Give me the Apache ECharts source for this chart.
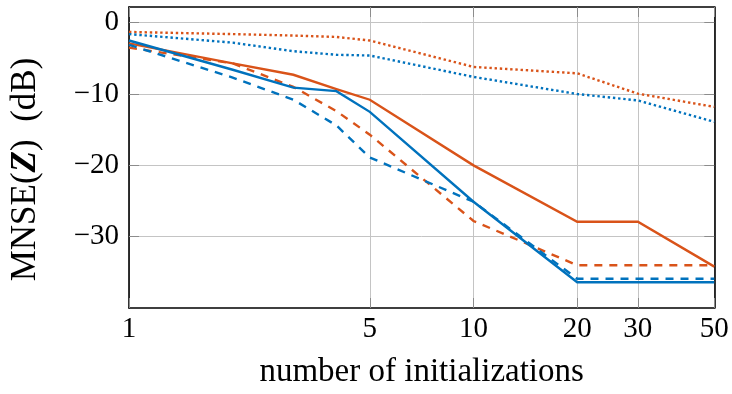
<!DOCTYPE html>
<html><head><meta charset="utf-8">
<script src="https://cdn.jsdelivr.net/npm/echarts@6/dist/echarts.min.js"></script>
<style>html,body{margin:0;padding:0;background:#fff}#c{width:732px;height:394px}</style>
</head><body><div id="c"></div>
<script>
const inits = [1, 2, 3, 4, 5, 10, 20, 30, 50];
const xTicks = [1, 5, 10, 20, 30, 50];
const yTicks = [0, -10, -20, -30];
const blueSolid    = [-2.5, -6.6, -9.1, -9.6, -12.5, -25.1, -36.4, -36.4, -36.4];
const blueDashed   = [-3.1, -7.7, -10.8, -14.4, -18.9, -25.1, -35.9, -35.9, -35.9];
const blueDotted   = [-1.6, -2.8, -4.0, -4.5, -4.6, -7.6, -10.0, -10.9, -13.9];
const orangeSolid  = [-2.9, -5.7, -7.3, -9.3, -10.8, -20.0, -27.9, -27.9, -34.2];
const orangeDashed = [-3.5, -5.7, -9.0, -12.4, -15.7, -27.8, -34.0, -34.0, -34.0];
const orangeDotted = [-1.3, -1.6, -1.8, -2.0, -2.5, -6.2, -7.1, -9.95, -11.8];

const BLUE = '#0072BD', ORANGE = '#D95319';
const FONT = 'Liberation Serif';
const lx = v => Math.log10(v);
const pts = arr => inits.map((n, i) => [lx(n), arr[i]]);
const minus = v => (v < 0 ? '\u2212' + Math.abs(v) : String(v));

const tick = (vals) => ({show: true, inside: true, length: 10, customValues: vals,
  lineStyle: {color: '#8c8c8c', width: 1}});
const axLine = {show: true, onZero: false, lineStyle: {color: '#000', width: 1.6}};

const chart = echarts.init(document.getElementById('c'), null, {renderer: 'canvas'});
const mk = (name, data, color, type) => ({
  name, type: 'line', data: pts(data), showSymbol: false, symbol: 'none',
  lineStyle: {color, width: 2.4, type, cap: 'butt', join: 'miter'},
  animation: false, z: 3
});
chart.setOption({
  animation: false,
  grid: {left: 128, right: 17.7, top: 7, bottom: 85, containLabel: false},
  xAxis: [{
    type: 'value', min: 0, max: lx(50), position: 'bottom',
    axisLine: axLine, axisTick: tick(xTicks.map(lx)),
    axisLabel: {customValues: xTicks.map(lx), formatter: v => String(Math.round(Math.pow(10, v))),
      fontFamily: FONT, fontSize: 29, color: '#000', margin: 7},
    splitLine: {show: true, lineStyle: {color: '#c4c4c4', width: 1}},
    name: 'number of initializations', nameLocation: 'middle', nameGap: 48,
    nameTextStyle: {fontFamily: FONT, fontSize: 33, color: '#000'}
  }, {
    type: 'value', min: 0, max: lx(50), position: 'top',
    axisLine: axLine, axisTick: tick(xTicks.map(lx)),
    axisLabel: {show: false}, splitLine: {show: false}
  }],
  yAxis: [{
    type: 'value', min: -40, max: 2.2, position: 'left',
    axisLine: axLine, axisTick: tick(yTicks),
    axisLabel: {customValues: yTicks, formatter: v => minus(v),
      fontFamily: FONT, fontSize: 29, color: '#000', margin: 10},
    splitLine: {show: true, lineStyle: {color: '#c4c4c4', width: 1}},
    name: '{a|MNSE(}{b|Z}{a|)  (dB)}', nameLocation: 'middle', nameGap: 86,
    nameTextStyle: {color: '#000', padding: [0, 24, 0, 0],
      rich: {a: {fontFamily: FONT, fontSize: 35, color: '#000'},
             b: {fontFamily: FONT, fontSize: 35, fontWeight: 'bold', fontStyle: 'italic', color: '#000'}}}
  }, {
    type: 'value', min: -40, max: 2.2, position: 'right',
    axisLine: axLine, axisTick: tick(yTicks),
    axisLabel: {show: false}, splitLine: {show: false}
  }],
  series: [
    mk('orangeDotted', orangeDotted, ORANGE, [2.4, 2.8]),
    mk('blueDotted', blueDotted, BLUE, [2.4, 2.8]),
    mk('orangeSolid', orangeSolid, ORANGE, 'solid'),
    mk('orangeDashed', orangeDashed, ORANGE, [8, 7]),
    mk('blueSolid', blueSolid, BLUE, 'solid'),
    mk('blueDashed', blueDashed, BLUE, [8, 7])
  ]
});
</script></body></html>
